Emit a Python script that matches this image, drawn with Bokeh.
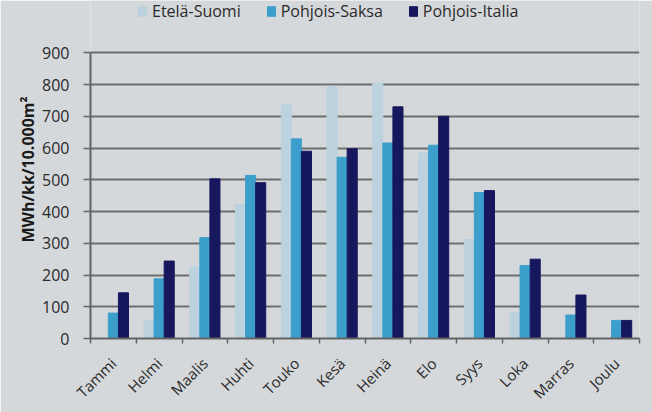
import math
from bokeh.plotting import figure
from bokeh.models import ColumnDataSource, Range1d, FixedTicker, Legend, LegendItem
from bokeh.transform import dodge
from bokeh.embed import file_html
from bokeh.resources import INLINE

months = ["Tammi", "Helmi", "Maalis", "Huhti", "Touko", "Kesä", "Heinä", "Elo", "Syys", "Loka", "Marras", "Joulu"]
series_names = ["Etelä-Suomi", "Pohjois-Saksa", "Pohjois-Italia"]
etela_suomi = [0, 58, 225, 422, 738, 795, 805, 585, 312, 82, 0, 0]
pohjois_saksa = [80, 188, 318, 514, 629, 571, 616, 609, 460, 230, 74, 57]
pohjois_italia = [144, 244, 503, 491, 590, 598, 730, 700, 466, 250, 137, 57]
y_ticks = [0, 100, 200, 300, 400, 500, 600, 700, 800, 900]

colors = ["#bcd2de", "#3c9fcb", "#17175e"]
BG = "#d5d8db"
AX = "#636363"

x_idx = list(range(len(months)))
source = ColumnDataSource(dict(x=x_idx, es=etela_suomi, ps=pohjois_saksa, pi=pohjois_italia))

# y range extends above 900 to leave room for the legend inside the frame
p = figure(width=652, height=412, output_backend="svg", toolbar_location=None,
           x_range=Range1d(-0.5, len(months) - 0.5), y_range=Range1d(0, 1065),
           min_border_left=90, min_border_right=13, min_border_top=0, min_border_bottom=74)
p.background_fill_color = BG
p.border_fill_color = BG
p.outline_line_color = None

w = 0.22
r1 = p.vbar(x=dodge("x", -w, range=p.x_range), top="es", width=w, source=source, color=colors[0])
r2 = p.vbar(x=dodge("x", 0, range=p.x_range), top="ps", width=w, source=source, color=colors[1])
r3 = p.vbar(x=dodge("x", w, range=p.x_range), top="pi", width=w, source=source, color=colors[2])

# x axis
p.xaxis.ticker = FixedTicker(ticks=x_idx, minor_ticks=[i - 0.5 for i in range(len(months) + 1)])
p.xaxis.major_label_overrides = {i: m for i, m in enumerate(months)}
p.xaxis.major_label_orientation = math.pi / 4
p.xaxis.major_tick_line_color = None
p.xaxis.major_tick_out = 0
p.xaxis.major_tick_in = 0
p.xaxis.minor_tick_line_color = AX
p.xaxis.minor_tick_out = 5
p.xaxis.minor_tick_in = 0
p.xaxis.minor_tick_line_width = 1.5
p.xaxis.axis_line_color = AX
p.xaxis.axis_line_width = 2
p.xaxis.major_label_text_font = "Open Sans"
p.xaxis.major_label_text_font_size = "15px"
p.xaxis.major_label_text_color = "#2a2a2a"
p.xaxis.major_label_standoff = 17

# y axis
p.yaxis.ticker = FixedTicker(ticks=y_ticks)
p.yaxis.bounds = (0, 900)
p.yaxis.minor_tick_line_color = None
p.yaxis.major_tick_out = 7
p.yaxis.major_tick_in = 0
p.yaxis.major_tick_line_color = AX
p.yaxis.major_tick_line_width = 1.5
p.yaxis.axis_line_color = AX
p.yaxis.axis_line_width = 2
p.yaxis.major_label_text_font = "Open Sans"
p.yaxis.major_label_text_font_size = "16px"
p.yaxis.major_label_text_color = "#2a2a2a"
p.yaxis.major_label_standoff = 14
p.yaxis.axis_label = "MWh/kk/10.000m²"
p.yaxis.axis_label_text_font = "Open Sans"
p.yaxis.axis_label_text_font_style = "bold"
p.yaxis.axis_label_text_font_size = "16px"
p.yaxis.axis_label_text_color = "#1a1a1a"
p.yaxis.axis_label_standoff = 0

p.xgrid.grid_line_color = None
p.ygrid.grid_line_color = "#6e6e6e"
p.ygrid.grid_line_width = 1.8

legend = Legend(items=[LegendItem(label=n, renderers=[r]) for n, r in zip(series_names, [r1, r2, r3])],
                orientation="horizontal", location=(47, 316))
legend.background_fill_alpha = 0
legend.border_line_color = None
legend.padding = 0
legend.margin = 0
legend.label_text_font = "Open Sans"
legend.label_text_font_size = "16px"
legend.label_text_color = "#2a2a2a"
legend.glyph_width = 10
legend.glyph_height = 12
legend.label_standoff = 5
legend.spacing = 25
p.add_layout(legend, "center")

open("out.html", "w").write(file_html(p, INLINE))
